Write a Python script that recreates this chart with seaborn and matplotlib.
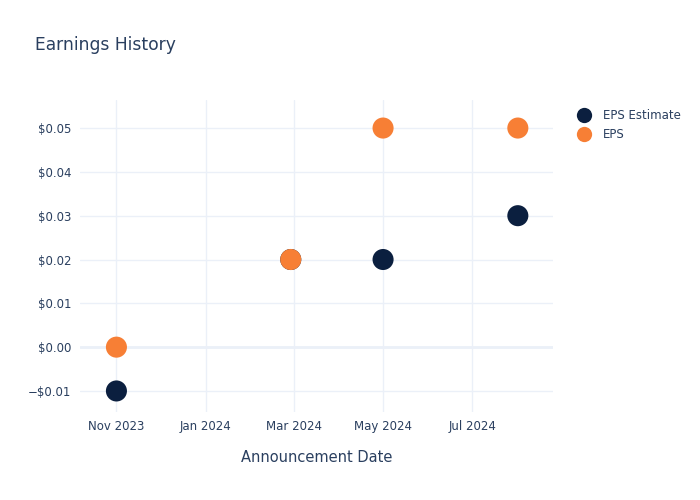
import matplotlib.pyplot as plt
import matplotlib.dates as mdates
from matplotlib.ticker import FuncFormatter
import seaborn as sb
import pandas as pd

# data
dates = ['2023-11-01', '2024-02-28', '2024-05-01', '2024-08-01']
eps_estimate = [-0.01, 0.02, 0.02, 0.03]
eps_actual = [0.00, 0.02, 0.05, 0.05]

df = pd.DataFrame({
    'date': pd.to_datetime(dates * 2),
    'value': eps_estimate + eps_actual,
    'series': ['EPS Estimate'] * len(dates) + ['EPS'] * len(dates),
})

txt = '#2a3f5f'
sb.set_style('white')
plt.rcParams['font.family'] = ['DejaVu Sans']

fig = plt.figure(figsize=(7, 5), dpi=100)
ax = fig.add_axes([0.114, 0.176, 0.676, 0.624])

sb.scatterplot(data=df, x='date', y='value', hue='series',
               palette={'EPS Estimate': '#0b1f3f', 'EPS': '#f77f35'},
               s=230, edgecolor='none', ax=ax, zorder=3)

ax.set_ylim(-0.0148, 0.0564)
ax.set_xlim(pd.Timestamp('2023-10-07'), pd.Timestamp('2024-08-25'))
ax.set_yticks([-0.01, 0, 0.01, 0.02, 0.03, 0.04, 0.05])
ax.yaxis.set_major_formatter(FuncFormatter(
    lambda v, p: ('\u2212$%.2f' % abs(v)) if v < -1e-9 else '$%.2f' % abs(v)))
ax.set_xticks(pd.to_datetime(['2023-11-01', '2024-01-01', '2024-03-01',
                              '2024-05-01', '2024-07-01']))
ax.xaxis.set_major_formatter(mdates.DateFormatter('%b %Y'))

ax.grid(True, color='#ebf0f8', linewidth=1, zorder=0)
ax.axhline(0, color='#ebf0f8', linewidth=2, zorder=1)
for s in ax.spines.values():
    s.set_visible(False)
ax.tick_params(length=0, labelsize=8.5, labelcolor=txt, pad=6)

ax.set_xlabel('Announcement Date', fontsize=10.5, color=txt, labelpad=12)
ax.set_ylabel('')
fig.text(0.05, 0.91, 'Earnings History', fontsize=12.3, color=txt, va='center')

leg = ax.legend(loc='upper left', bbox_to_anchor=(1.03, 0.985), frameon=False,
                fontsize=8.5, handletextpad=0.6, labelspacing=0.5,
                borderaxespad=0)
for t in leg.get_texts():
    t.set_color(txt)
for h in leg.legend_handles:
    h.set_markersize(11)

plt.savefig('out.png')
